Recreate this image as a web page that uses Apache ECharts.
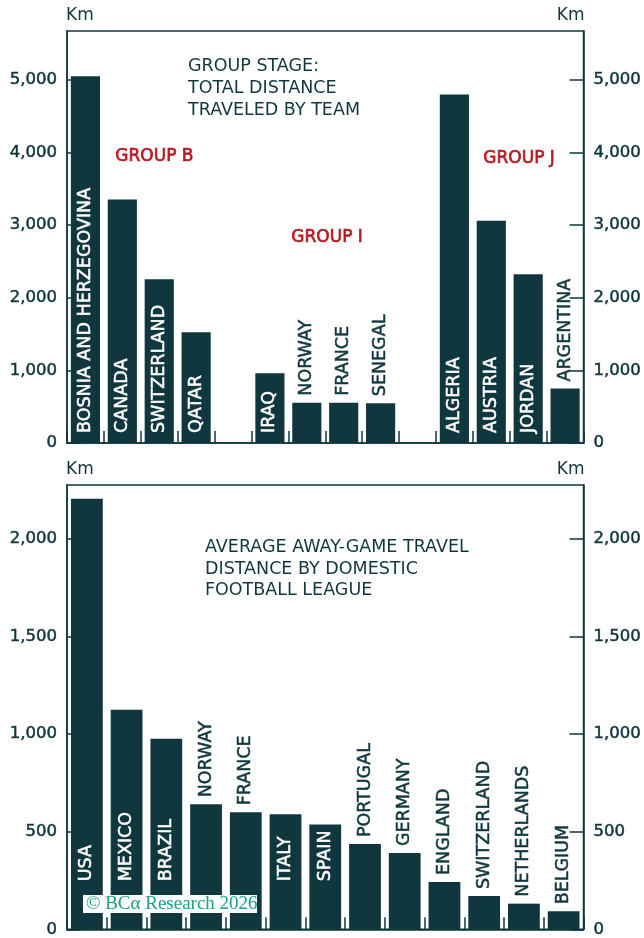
<!DOCTYPE html>
<html>
<head>
<meta charset="utf-8">
<script src="https://cdn.jsdelivr.net/npm/echarts@6/dist/echarts.min.js"></script>
<style>
  html, body { margin: 0; padding: 0; background: #ffffff; }
  #chart { width: 644px; height: 938px; }
</style>
</head>
<body>
<div id="chart"></div>
<script>
// World Cup group stage: total km travelled per team
const groupBTeams = ['BOSNIA AND HERZEGOVINA', 'CANADA', 'SWITZERLAND', 'QATAR'];
const groupBKm = [5050, 3355, 2255, 1525];
const groupITeams = ['IRAQ', 'NORWAY', 'FRANCE', 'SENEGAL'];
const groupIKm = [960, 555, 555, 548];
const groupJTeams = ['ALGERIA', 'AUSTRIA', 'JORDAN', 'ARGENTINA'];
const groupJKm = [4800, 3060, 2325, 750];

// Domestic leagues: average away-game travel distance
const leagues = ['USA', 'MEXICO', 'BRAZIL', 'NORWAY', 'FRANCE', 'ITALY', 'SPAIN',
  'PORTUGAL', 'GERMANY', 'ENGLAND', 'SWITZERLAND', 'NETHERLANDS', 'BELGIUM'];
const leagueKm = [2205, 1124, 976, 640, 599, 589, 536, 436, 390, 242, 170, 131, 92];

// bars whose names sit above the bar instead of inside it
const topOutside = ['NORWAY', 'FRANCE', 'SENEGAL', 'ARGENTINA'];
const bottomOutside = ['NORWAY', 'FRANCE', 'PORTUGAL', 'GERMANY', 'ENGLAND',
  'SWITZERLAND', 'NETHERLANDS', 'BELGIUM'];

const DARK = '#11373e';
const RED = '#b71c24';
const FONT = 'DejaVu Sans';

// group stage categories with an empty slot between groups
const teamCats = [...groupBTeams, '', ...groupITeams, '', ...groupJTeams];
const teamVals = [...groupBKm, null, ...groupIKm, null, ...groupJKm];

function barItems(names, values, outside, insideDist) {
  return values.map((v, i) => {
    if (v === null) return { value: null };
    const out = outside.includes(names[i]);
    return {
      value: v,
      label: out
        ? { position: 'top', distance: 7, color: DARK, textBorderColor: DARK }
        : { position: 'insideBottom', distance: insideDist, color: '#ffffff', textBorderColor: '#ffffff' }
    };
  });
}

const chart = echarts.init(document.getElementById('chart'));

const valueAxis = (grid, pos, max, interval) => ({
  type: 'value',
  gridIndex: grid,
  position: pos,
  min: 0,
  max: max,
  interval: interval,
  name: 'Km',
  nameLocation: 'end',
  nameGap: 7,
  nameTextStyle: {
    color: DARK, fontFamily: FONT, fontSize: 17,
    align: pos === 'left' ? 'left' : 'right', verticalAlign: 'bottom',
    padding: pos === 'left' ? [0, 0, 0, -1] : [0, -1, 0, 0]
  },
  splitLine: { show: false },
  axisLine: { show: true, lineStyle: { color: DARK, width: 1.5 } },
  axisTick: { show: true, inside: true, length: 14, lineStyle: { color: DARK, width: 1.5 } },
  axisLabel: {
    color: DARK, fontFamily: FONT, fontSize: 16.5, margin: 10,
    textBorderColor: DARK, textBorderWidth: 0.5,
    showMaxLabel: false,
    formatter: v => v.toLocaleString('en-US')
  }
});

const catAxis = (grid, cats) => ({
  type: 'category',
  gridIndex: grid,
  data: cats,
  boundaryGap: true,
  axisLine: { show: true, lineStyle: { color: DARK, width: 1.5 } },
  axisTick: { show: true, inside: true, length: 12, interval: 0, lineStyle: { color: DARK, width: 1.5 } },
  axisLabel: { show: false },
  splitLine: { show: false }
});

const barLabel = {
  show: true,
  rotate: 90,
  align: 'left',
  verticalAlign: 'middle',
  formatter: '{b}',
  fontFamily: FONT,
  fontSize: 17.5,
  textBorderWidth: 0.5
};

chart.setOption({
  animation: false,
  backgroundColor: '#ffffff',
  grid: [
    { left: 67, right: 59, top: 31, height: 412, show: true, borderColor: DARK, borderWidth: 1.5, containLabel: false },
    { left: 67, right: 59, top: 485, height: 446, show: true, borderColor: DARK, borderWidth: 1.5, containLabel: false }
  ],
  xAxis: [catAxis(0, teamCats), catAxis(1, leagues)],
  yAxis: [
    valueAxis(0, 'left', 5675, 1000),
    valueAxis(0, 'right', 5675, 1000),
    valueAxis(1, 'left', 2275, 500),
    valueAxis(1, 'right', 2275, 500)
  ],
  series: [
    {
      type: 'bar',
      xAxisIndex: 0, yAxisIndex: 0,
      barCategoryGap: '21%',
      itemStyle: { color: DARK },
      label: barLabel,
      data: barItems(teamCats, teamVals, topOutside, 10),
      z: 3
    },
    {
      type: 'bar',
      xAxisIndex: 1, yAxisIndex: 2,
      barCategoryGap: '20%',
      itemStyle: { color: DARK },
      label: barLabel,
      data: barItems(leagues, leagueKm, bottomOutside, 48),
      z: 3
    }
  ],
  graphic: [
    {
      type: 'text', left: 188, top: 55, z: 10,
      style: {
        text: 'GROUP STAGE:\nTOTAL DISTANCE\nTRAVELED BY TEAM',
        fill: DARK, font: '17.5px "DejaVu Sans"', lineHeight: 22
      }
    },
    { type: 'text', left: 115, top: 148, z: 10,
      style: { text: 'GROUP B', fill: RED, font: '17px "DejaVu Sans"', stroke: RED, lineWidth: 0.7 } },
    { type: 'text', left: 291, top: 229, z: 10,
      style: { text: 'GROUP I', fill: RED, font: '17px "DejaVu Sans"', stroke: RED, lineWidth: 0.7 } },
    { type: 'text', left: 483, top: 150, z: 10,
      style: { text: 'GROUP J', fill: RED, font: '17px "DejaVu Sans"', stroke: RED, lineWidth: 0.7 } },
    {
      type: 'text', left: 205, top: 537, z: 10,
      style: {
        text: 'AVERAGE AWAY-GAME TRAVEL\nDISTANCE BY DOMESTIC\nFOOTBALL LEAGUE',
        fill: DARK, font: '17.5px "DejaVu Sans"', lineHeight: 21.5
      }
    },
    // copyright tag on a white strip over the bars
    { type: 'rect', z: 50, shape: { x: 83, y: 895, width: 174, height: 18 }, style: { fill: '#ffffff' } },
    { type: 'text', z: 51, x: 86, y: 904,
      style: { text: '\u00A9 BC\u03B1 Research 2026', fill: '#1aa37a',
        font: '19px "Liberation Serif"', verticalAlign: 'middle' } }
  ]
});
</script>
</body>
</html>
